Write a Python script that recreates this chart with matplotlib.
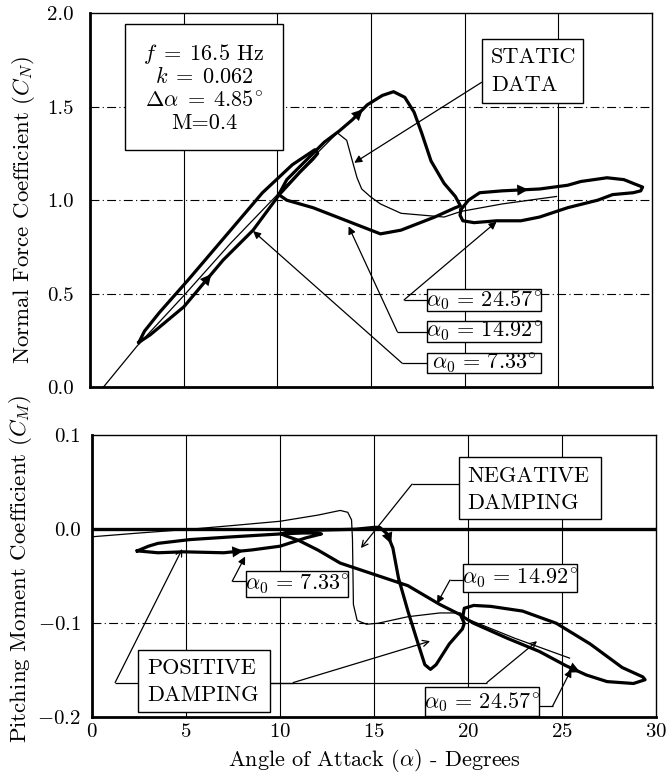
import numpy as np
import matplotlib
matplotlib.use('Agg')
import matplotlib.pyplot as plt
from matplotlib.patches import Rectangle

plt.rcParams['font.family'] = ['cmr10', 'DejaVu Serif']
plt.rcParams['mathtext.fontset'] = 'cm'
plt.rcParams['axes.formatter.use_mathtext'] = True
plt.rcParams['font.size'] = 15

# ---------------- data: Normal force coefficient ----------------
static_cn_alpha = [0.7, 2.5, 5.0, 7.5, 10.0, 12.0, 13.2, 13.7, 14.0, 14.25, 14.5, 14.95, 15.5, 16.6, 18.9, 19.8, 22.0, 24.9]
static_cn = [0.0, 0.22, 0.49, 0.77, 1.03, 1.24, 1.36, 1.32, 1.21, 1.12, 1.06, 1.02, 0.98, 0.93, 0.91, 0.94, 0.98, 1.02]

loop733_cn_alpha = [2.6, 3.2, 5.0, 7.1, 8.7, 10.1, 11.2, 11.9, 12.15, 12.0, 10.8, 9.2, 7.5, 5.2, 3.7, 2.9, 2.6]
loop733_cn = [0.24, 0.28, 0.43, 0.68, 0.84, 1.03, 1.15, 1.22, 1.25, 1.27, 1.19, 1.04, 0.84, 0.57, 0.40, 0.30, 0.24]

loop1492_cn_alpha = [10.07, 10.5, 11.5, 12.5, 13.3, 14.0, 14.8, 15.6, 16.2, 16.8, 17.3, 17.7, 18.2, 18.9, 19.5, 19.77,
                     19.5, 18.4, 16.6, 15.5, 13.7, 11.9, 10.5, 10.07]
loop1492_cn = [1.03, 1.11, 1.21, 1.31, 1.37, 1.43, 1.51, 1.56, 1.58, 1.55, 1.47, 1.36, 1.21, 1.09, 1.02, 0.97,
               0.96, 0.91, 0.84, 0.82, 0.89, 0.96, 1.00, 1.03]

loop2457_cn_alpha = [19.8, 20.2, 20.8, 22.0, 24.0, 25.5, 26.2, 27.6, 28.5, 29.0, 29.5, 29.4, 29.0, 27.9, 27.1, 25.5,
                     24.0, 23.0, 21.7, 20.5, 19.9, 19.75, 19.8]
loop2457_cn = [0.95, 1.00, 1.04, 1.05, 1.06, 1.08, 1.10, 1.12, 1.11, 1.09, 1.07, 1.05, 1.04, 1.03, 1.00, 0.96,
               0.91, 0.89, 0.89, 0.88, 0.89, 0.92, 0.95]

# ---------------- data: Pitching moment coefficient ----------------
static_cm_alpha = [0.0, 2.5, 5.2, 7.5, 10.0, 12.0, 13.2, 13.6, 13.8, 13.85, 13.9, 14.1, 14.6, 15.2, 16.8, 18.5, 19.6,
                   19.75, 19.9, 22.5, 25.4]
static_cm = [-0.008, -0.004, 0.0, 0.004, 0.0085, 0.015, 0.020, 0.018, 0.010, -0.01, -0.08, -0.097, -0.101, -0.100,
             -0.093, -0.089, -0.089, -0.093, -0.095, -0.116, -0.137]

loop733_cm_alpha = [2.4, 3.5, 4.85, 7.0, 8.5, 10.0, 11.4, 12.0, 12.2, 12.0, 11.2, 10.0, 7.5, 5.2, 3.5, 3.0, 2.4]
loop733_cm = [-0.023, -0.025, -0.024, -0.025, -0.022, -0.018, -0.009, -0.006, -0.005, -0.004, -0.004, -0.005,
              -0.008, -0.011, -0.015, -0.018, -0.023]

loop1492_cm_alpha = [10.07, 10.5, 12.0, 14.0, 15.0, 15.3, 15.7, 16.0, 16.3, 16.8, 17.3, 17.7, 18.0, 18.3, 19.0, 19.7,
                     19.8, 19.6, 18.5, 16.8, 15.0, 13.2, 12.0, 11.0, 10.3, 10.07]
loop1492_cm = [-0.005, -0.002, -0.001, 0.0, 0.002, 0.002, -0.005, -0.02, -0.052, -0.087, -0.119, -0.144, -0.149,
               -0.144, -0.122, -0.106, -0.100, -0.091, -0.080, -0.060, -0.048, -0.036, -0.022, -0.012, -0.007, -0.005]

loop2457_cm_alpha = [19.72, 20.3, 22.1, 23.8, 25.2, 26.3, 27.4, 28.8, 29.42, 29.3, 28.2, 26.5, 24.7, 22.9, 21.2, 20.3,
                     19.8, 19.72]
loop2457_cm = [-0.093, -0.100, -0.116, -0.130, -0.145, -0.155, -0.162, -0.164, -0.160, -0.157, -0.147, -0.122,
               -0.100, -0.087, -0.082, -0.081, -0.084, -0.093]

x_ticks = [0, 5, 10, 15, 20, 25, 30]
cn_ticks = [0.0, 0.5, 1.0, 1.5, 2.0]
cm_ticks = [-0.2, -0.1, 0.0, 0.1]
loop_labels = [r'$\alpha_0\,=\,24.57^{\!\circ}$', r'$\alpha_0\,=\,14.92^{\!\circ}$', r'$\alpha_0\,=\,7.33^{\!\circ}$']
params_text = [r'$f\;=\;16.5$ Hz', r'$k\;=\;0.062$', r'$\Delta\alpha\;=\;4.85^{\!\circ}$', 'M=0.4']

THICK = 2.3
THIN = 0.9
FS_BOX = 16

fig = plt.figure(figsize=(6.68, 7.73), dpi=100)
ax1 = fig.add_axes([0.135, 0.499, 0.841, 0.484])
ax2 = fig.add_axes([0.138, 0.072, 0.844, 0.365])


def style_axes(ax, yticks, grid_y, pad):
    ax.set_xlim(0, 30)
    ax.set_xticks(x_ticks)
    ax.set_yticks(yticks)
    ax.tick_params(length=0, pad=pad)
    for x in x_ticks[1:-1]:
        ax.axvline(x, color='k', lw=0.8, zorder=1)
    for y in grid_y:
        ax.axhline(y, color='k', lw=0.8, ls=(0, (8, 3, 1, 3)), zorder=1)
    for s in ['left', 'bottom']:
        ax.spines[s].set_linewidth(2.0)
    for s in ['top', 'right']:
        ax.spines[s].set_linewidth(1.0)


def arrow_on(ax, xs, ys, i, scale=20):
    x0, y0 = xs[i], ys[i]
    x1, y1 = xs[i + 1], ys[i + 1]
    tip = (x0 + 0.7 * (x1 - x0), y0 + 0.7 * (y1 - y0))
    ax.annotate('', xy=tip, xytext=(x0, y0),
                arrowprops=dict(arrowstyle='-|>', mutation_scale=scale, lw=0, color='k',
                                shrinkA=0, shrinkB=0), zorder=6)


def leader(ax, pts, tip, open_head=False):
    xs = [p[0] for p in pts]
    ys = [p[1] for p in pts]
    if len(pts) > 1:
        ax.plot(xs, ys, color='k', lw=THIN, zorder=4, solid_capstyle='butt')
    ax.annotate('', xy=tip, xytext=pts[-1],
                arrowprops=dict(arrowstyle='->' if open_head else '-|>', mutation_scale=11, lw=THIN,
                                color='k', shrinkA=0, shrinkB=0), zorder=4)


def box(ax, x0, x1, y0, y1):
    ax.add_patch(Rectangle((x0, y0), x1 - x0, y1 - y0, facecolor='white', edgecolor='k', lw=1.0, zorder=5))


# ---------------- top panel ----------------
style_axes(ax1, cn_ticks, [0.5, 1.0, 1.5], 12)
ax1.set_ylim(0, 2.0)
ax1.set_xticklabels([])
ax1.set_yticklabels(['0.0', '0.5', '1.0', '1.5', '2.0'])
ax1.plot(static_cn_alpha, static_cn, color='k', lw=THIN, zorder=3)
for xs, ys in [(loop733_cn_alpha, loop733_cn), (loop1492_cn_alpha, loop1492_cn), (loop2457_cn_alpha, loop2457_cn)]:
    ax1.plot(xs, ys, color='k', lw=THICK, zorder=3, solid_joinstyle='round')
arrow_on(ax1, loop733_cn_alpha, loop733_cn, 2)
arrow_on(ax1, loop1492_cn_alpha, loop1492_cn, 5)
arrow_on(ax1, loop2457_cn_alpha, loop2457_cn, 3)
ax1.set_ylabel(r'Normal Force Coefficient $(C_N)$', fontsize=16.5)
ax1.yaxis.set_label_coords(-0.095, 0.475)

box(ax1, 1.87, 10.3, 1.27, 1.94)
for t, y in zip(params_text, [1.78, 1.66, 1.535, 1.41]):
    ax1.text(6.08, y, t, ha='center', va='center', zorder=6, fontsize=FS_BOX)

box(ax1, 20.9, 26.3, 1.52, 1.86)
ax1.text(21.4, 1.765, 'STATIC', ha='left', va='center', zorder=6, fontsize=FS_BOX)
ax1.text(21.4, 1.615, 'DATA', ha='left', va='center', zorder=6, fontsize=FS_BOX)
leader(ax1, [(20.9, 1.63)], (14.1, 1.2))

top_boxes = [(0.41, 0.524), (0.241, 0.353), (0.075, 0.182)]
top_corners = [16.76, 16.4, 16.66]
top_tips = [(21.7, 0.885), (13.8, 0.86), (8.7, 0.835)]
for lab, (b0, b1), cx, tip in zip(loop_labels, top_boxes, top_corners, top_tips):
    box(ax1, 18.0, 24.1, b0, b1)
    ax1.text(21.05, (b0 + b1) / 2, lab, ha='center', va='center', zorder=6, fontsize=FS_BOX)
    ym = (b0 + b1) / 2
    leader(ax1, [(18.0, ym), (cx, ym)], tip)

# ---------------- bottom panel ----------------
style_axes(ax2, cm_ticks, [-0.1], 8)
ax2.set_ylim(-0.2, 0.1)
ax2.axhline(0.0, color='k', lw=2.4, zorder=2)
ax2.set_yticklabels([r'$-0.2$', r'$-0.1$', '0.0', '0.1'])
ax2.tick_params(axis='x', pad=4)
ax2.plot(static_cm_alpha, static_cm, color='k', lw=THIN, zorder=3)
for xs, ys in [(loop733_cm_alpha, loop733_cm), (loop1492_cm_alpha, loop1492_cm), (loop2457_cm_alpha, loop2457_cm)]:
    ax2.plot(xs, ys, color='k', lw=THICK, zorder=3, solid_joinstyle='round')
arrow_on(ax2, loop733_cm_alpha, loop733_cm, 3)
arrow_on(ax2, loop1492_cm_alpha, loop1492_cm, 6)
arrow_on(ax2, loop2457_cm_alpha, loop2457_cm, 4)
ax2.set_ylabel(r'Pitching Moment Coefficient $(C_M)$', fontsize=16.5)
ax2.yaxis.set_label_coords(-0.103, 0.525)
ax2.set_xlabel(r'Angle of Attack $(\alpha)$ - Degrees', fontsize=16)
ax2.xaxis.set_label_coords(0.5, -0.105)

box(ax2, 19.52, 27.07, 0.0106, 0.0766)
ax2.text(19.95, 0.056, 'NEGATIVE', ha='left', va='center', zorder=6, fontsize=FS_BOX)
ax2.text(19.95, 0.028, 'DAMPING', ha='left', va='center', zorder=6, fontsize=FS_BOX)
leader(ax2, [(19.52, 0.048), (17.02, 0.048)], (14.3, -0.02), open_head=True)

box(ax2, 8.19, 13.62, -0.0723, -0.0447)
ax2.text(10.9, -0.0585, loop_labels[2], ha='center', va='center', zorder=6, fontsize=FS_BOX)
leader(ax2, [(8.19, -0.0553), (7.45, -0.0553)], (8.14, -0.029))

box(ax2, 19.73, 25.8, -0.067, -0.037)
ax2.text(22.77, -0.052, loop_labels[1], ha='center', va='center', zorder=6, fontsize=FS_BOX)
leader(ax2, [(19.73, -0.054), (19.04, -0.054)], (18.35, -0.079))

box(ax2, 17.7, 23.8, -0.199, -0.168)
ax2.text(20.75, -0.1835, loop_labels[0], ha='center', va='center', zorder=6, fontsize=FS_BOX)
leader(ax2, [(23.8, -0.188), (24.5, -0.188)], (25.5, -0.149))

box(ax2, 2.45, 9.47, -0.194, -0.128)
ax2.text(2.93, -0.148, 'POSITIVE', ha='left', va='center', zorder=6, fontsize=FS_BOX)
ax2.text(2.93, -0.176, 'DAMPING', ha='left', va='center', zorder=6, fontsize=FS_BOX)
leader(ax2, [(2.45, -0.163), (1.22, -0.163)], (4.79, -0.021), open_head=True)
leader(ax2, [(9.47, -0.163), (10.7, -0.163)], (17.98, -0.119), open_head=True)
leader(ax2, [(9.47, -0.163), (21.0, -0.163)], (23.67, -0.119), open_head=True)

fig.savefig('out.png', dpi=100, facecolor='white')
